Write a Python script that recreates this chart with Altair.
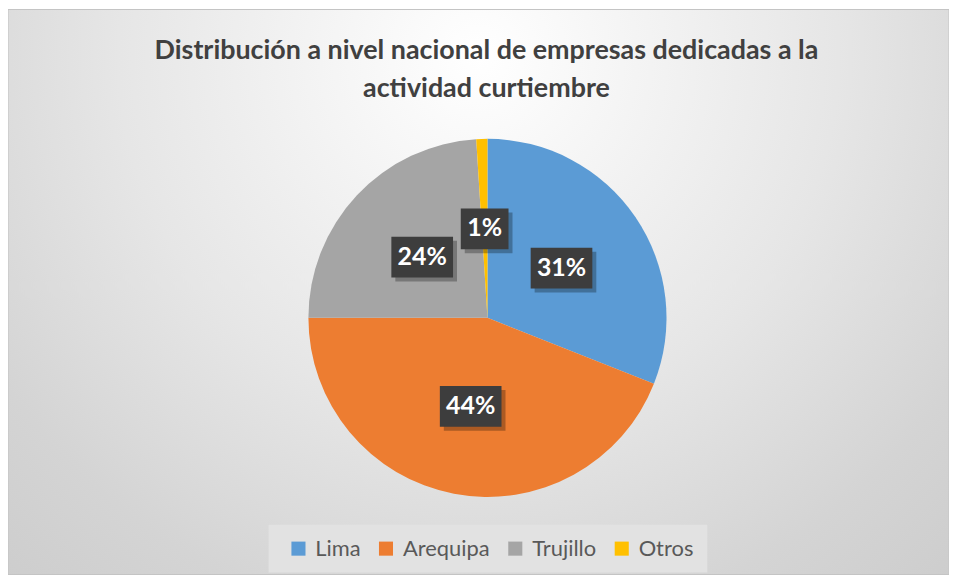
import altair as alt
import pandas as pd

# ---- data ----
regions = ["Lima", "Arequipa", "Trujillo", "Otros"]
shares = [31, 44, 24, 1]
pct_labels = ["31%", "44%", "24%", "1%"]
colors = ["#5B9BD5", "#ED7D31", "#A5A5A5", "#FFC000"]
title_lines = ["Distribución a nivel nacional de empresas dedicadas a la",
               "actividad curtiembre"]

# ---- layout ----
W, H = 946, 568
CX, CY, R = 482, 310, 180
LABEL_R = 90
FONT = "Lato"

df = pd.DataFrame({"region": regions, "share": shares,
                   "label": pct_labels, "order": list(range(len(regions)))})

bg = alt.Chart(pd.DataFrame({"a": [0]})).mark_rect(
    color=alt.Gradient(
        gradient="radial",
        stops=[alt.GradientStop(color="#ffffff", offset=0),
               alt.GradientStop(color="#e6e6e6", offset=0.45),
               alt.GradientStop(color="#d4d4d4", offset=0.72),
               alt.GradientStop(color="#c8c8c8", offset=1)],
        x1=0.5, y1=0.25, r1=0, x2=0.5, y2=0.25, r2=0.85),
    stroke="#c4c4c4", strokeWidth=1,
).encode(x=alt.value(0), x2=alt.value(W), y=alt.value(0), y2=alt.value(H))

pie = alt.Chart(df).mark_arc(outerRadius=R).encode(
    theta=alt.Theta("share:Q", stack=True),
    order=alt.Order("order:Q"),
    color=alt.Color("region:N", sort=regions,
                    scale=alt.Scale(domain=regions, range=colors),
                    legend=alt.Legend(
                        title=None, orient="none", direction="horizontal",
                        legendX=262, legendY=518, padding=13,
                        fillColor="#e2e2e2", symbolType="square",
                        symbolSize=200, symbolStrokeWidth=0,
                        labelFont=FONT, labelFontSize=22, labelColor="#595959",
                        labelOffset=6, columnPadding=8, symbolOffset=6)),
    x=alt.value(CX), y=alt.value(CY),
)

lab = alt.Chart(df).transform_joinaggregate(
    total="sum(share)"
).transform_window(
    cum="sum(share)", sort=[alt.SortField("order")], frame=[None, 0]
).transform_calculate(
    mid="(datum.cum - datum.share/2)/datum.total*2*PI",
).transform_calculate(
    bx=f"{CX} + {LABEL_R}*sin(datum.mid)",
    by=f"{CY} - {LABEL_R}*cos(datum.mid)",
    bw="14*length(datum.label)+20",
).transform_calculate(
    bx1="datum.bx - datum.bw/2", bx2="datum.bx + datum.bw/2",
    by1="datum.by - 20", by2="datum.by + 21",
    sx1="datum.bx - datum.bw/2 + 4", sx2="datum.bx + datum.bw/2 + 4",
    sy1="datum.by - 16", sy2="datum.by + 25",
)

shadow = lab.mark_rect(color="#000000", opacity=0.28).encode(
    x=alt.X("sx1:Q", scale=None, axis=None), x2="sx2:Q",
    y=alt.Y("sy1:Q", scale=None, axis=None), y2="sy2:Q")

box = lab.mark_rect(color="#3d3d3d").encode(
    x=alt.X("bx1:Q", scale=None, axis=None), x2="bx2:Q",
    y=alt.Y("by1:Q", scale=None, axis=None), y2="by2:Q")

txt = lab.mark_text(font=FONT, fontSize=25, fontWeight="bold", color="white",
                    align="center", baseline="middle").encode(
    x=alt.X("bx:Q", scale=None, axis=None),
    y=alt.Y("by:Q", scale=None, axis=None),
    text="label:N")

tdf = pd.DataFrame({"line": title_lines, "idx": list(range(len(title_lines)))})
title = alt.Chart(tdf).transform_calculate(
    ty="42 + 38*datum.idx"
).mark_text(font=FONT, fontSize=27, fontWeight="bold", color="#404040",
            align="center", baseline="middle").encode(
    x=alt.value(481),
    y=alt.Y("ty:Q", scale=None, axis=None),
    text="line:N")

chart = alt.layer(bg, pie, shadow, box, txt, title).resolve_scale(
    x="independent", y="independent"
).properties(
    width=W, height=H, padding=0,
    autosize=alt.AutoSizeParams(type="none"),
    background="white",
).configure_view(stroke=None)

chart.save("out.html", embed_options={"renderer": "svg", "actions": False})
